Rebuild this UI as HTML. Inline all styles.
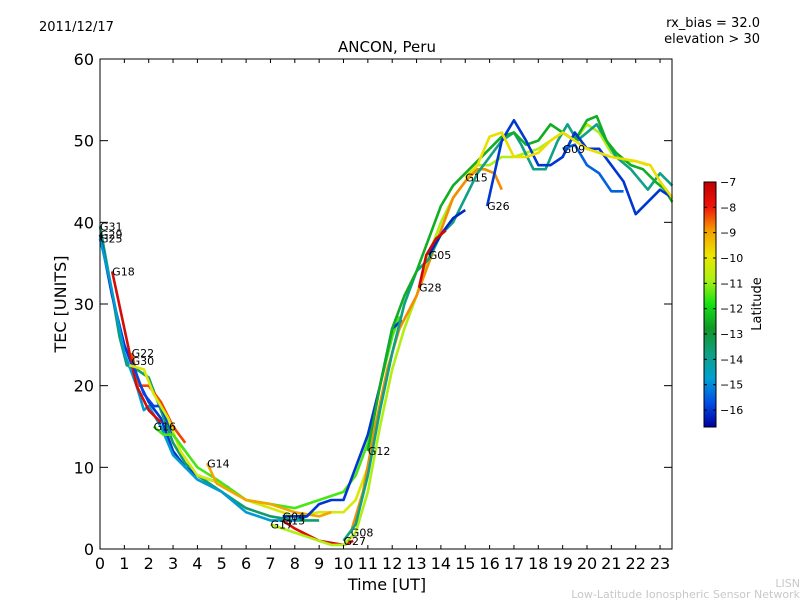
<!DOCTYPE html>
<html><head><meta charset="utf-8"><style>
body{margin:0;background:#fff;}
svg text{font-family:"DejaVu Sans","Liberation Sans",sans-serif;}
</style></head><body>
<svg id="c" width="800" height="600" xmlns="http://www.w3.org/2000/svg">
<rect width="800" height="600" fill="#fff"/>
<text x="39" y="31" font-size="13">2011/12/17</text>
<text x="760" y="27" font-size="13" text-anchor="end">rx_bias = 32.0</text>
<text x="760" y="43" font-size="13" text-anchor="end">elevation &gt; 30</text>
<text x="387" y="52" font-size="15" text-anchor="middle">ANCON, Peru</text>
<text x="387" y="590" font-size="16" text-anchor="middle">Time [UT]</text>
<text transform="translate(66,304) rotate(-90)" font-size="16" text-anchor="middle">TEC [UNITS]</text>
<text x="800" y="587" font-size="11" fill="#c8c8c8" text-anchor="end">LISN</text>
<text x="800" y="598" font-size="11" fill="#c8c8c8" text-anchor="end">Low-Latitude Ionospheric Sensor Network</text>
<g id="plot"></g>
<g id="axes"></g>
<g id="cbar"></g>
</svg>
<script>
const xTicks=[0,1,2,3,4,5,6,7,8,9,10,11,12,13,14,15,16,17,18,19,20,21,22,23];
const yTicks=[0,10,20,30,40,50,60];
const cbTicks=[-7,-8,-9,-10,-11,-12,-13,-14,-15,-16];
const satNames=["G31","G29","G25","G18","G22","G30","G16a","G16","G14","G13","G17","G04","G08","G27","G12","G05","G26","G15","G09","G28"];
const satLats=[-13.5,-16,-14.8,-7.5,-8.3,-15.8,-10.2,-11.5,-9,-7.6,-10.8,-16,-8.8,-13.8,-12.5,-16.2,-16,-9.8,-15.5,-7.4];
const satT=[
[0,0.4,0.8,1.1,1.5,2,2.5,3,3.5,4,5,6,7,8,9],
[0,0.5,1,1.5,2,2.5,3,3.5,4,5,5.3],
[0,0.4,0.8,1,1.5,1.8,2,2.5,3,3.5,4,5,6,7,8,8.5],
[0.5,1,1.5,2,2.5],
[1.3,1.6,2,2.5,3,3.5],
[1.3,1.8,2.2,2.5,3,3.5,4],
[1.2,1.8,2.2,2.8,3.3,4,5,6,7,8,9,10,10.5,11],
[2.2,2.6,3,3.5,4,4.8,6,7,8,9,10,10.5,11,11.5,12,12.3],
[4.4,4.8,6,7,8,9,9.5],
[7.5,8,9,10,10.4],
[7,8,9,9.5,10,10.5,11,11.5,12,12.5,13,13.5,14,14.5,15,15.5,16,16.5,17,17.5,18,18.5,19,19.5,20,20.5,21,21.5,22,22.5],
[7.5,8.5,9,9.5,10,10.5,11,11.5,12,12.4],
[10.3,10.8,11.3,11.8,12.3,13,13.5,14,14.5,15,15.5,15.8,16.2,16.5],
[10,10.5,11,11.5,12,12.5,13,13.5,14,14.5,15,15.5,16,16.5,17,17.3,17.8,18.3,18.8,19.2,19.6,20,20.4,20.8,21.2,21.8,22.5,23,23.5],
[11,11.5,12,12.5,13,14,14.5,15,15.5,16,16.5,17,17.5,18,18.5,19,19.5,20,20.4,20.8,21.2,21.8,22.3,22.8,23.2,23.5],
[13.5,14,14.5,15],
[15.9,16.2,16.5,17,17.5,18,18.5,19,19.5,20,20.5,21,21.5,22,22.5,23,23.5],
[15,15.5,16,16.5,17,17.5,18,18.5,19,19.5,20,20.5,21,22,22.6,23,23.5],
[19,19.5,20,20.5,21,21.5],
[13.1,13.4,13.8,14.2]
];
const satV=[
[39.5,33,26,22.5,22,21,17,13,10.5,9,7,5,4,3.5,3.5],
[38.5,31,25,21,18,16,12,10,9,8,7.5],
[38,33,27,24,20,17,17.5,15,11.5,10,8.5,7,4.5,3.5,3.5,4],
[34,27,20,17,15.5],
[24,20,20,18,15,13],
[23,19,17.5,17.5,14,12],
[22.5,22,19,16,12,9,8,6,5,4,4.5,4.5,6,10],
[15,14,14,12,10,8.5,6,5.5,5,6,7,9,13,20,26,28.5],
[10.5,8,6,5.5,4.5,4,4.5],
[3.5,2.5,1,0.5,1],
[3,2,1,0.5,0.5,2,7,15,22,27,31,36,40,43,45,47,47,48,48,48.5,49,50,51,50,52,51,48.5,47.5,47.5,47],
[4,4,5.5,6,6,10,14,20,27,28],
[2,7,15,22,27,31,35,39,43,45,46.5,46.5,46,44],
[1,3,9,17,24,30,34,35.5,38.5,40,43,46,48,50,51,49.5,46.5,46.5,50,52,50,51,52,50,48,46.5,44,46,44.5],
[12,20,27,31,34,42,44.5,46,47.5,49,50.5,51,49.5,50,52,51,50,52.5,53,50,48.5,47,46.5,45,44,42.5],
[36,38.5,40.5,41.5],
[42,46,50,52.5,50,47,47,48,51,49,49,47,45,41,42.5,44,43],
[45.5,47,50.5,51,48,48,48.5,50,51,50,49,48.5,48,47.5,47,45,43],
[49,49.5,47,46,43.8,43.8],
[32,36,38,39]
];
const X0=100,X1=672,Y0=549,Y1=59;
function xs(t){return X0+t*24.35;}
function ys(v){return Y0-v*(Y0-Y1)/60;}
const LMIN=-16.67,LMAX=-7;
const CMAP=[[0,[0,0,160]],[0.1,[0,80,230]],[0.2,[0,160,210]],[0.3,[16,160,130]],[0.4,[16,150,40]],[0.5,[20,225,20]],[0.6,[170,240,20]],[0.7,[235,230,0]],[0.8,[245,160,0]],[0.9,[240,20,10]],[1,[190,0,0]]];
function cm(f){f=Math.max(0,Math.min(1,f));
 for(let k=1;k<CMAP.length;k++){if(f<=CMAP[k][0]){const a=CMAP[k-1],b=CMAP[k],u=(f-a[0])/(b[0]-a[0]);
 return `rgb(${a[1].map((c,i)=>Math.round(c+(b[1][i]-c)*u)).join(',')})`;}}
 return 'rgb(190,0,0)';}
function latColor(l){return cm((l-LMIN)/(LMAX-LMIN));}
const NS="http://www.w3.org/2000/svg";
const plot=document.getElementById('plot');
satNames.forEach((n,i)=>{
 const p=document.createElementNS(NS,'polyline');
 
 
 p.setAttribute('points',satT[i].map((t,j)=>xs(t)+','+ys(satV[i][j])).join(' '));
 p.setAttribute('fill','none');p.setAttribute('stroke',latColor(satLats[i]));
 p.setAttribute('stroke-width','2.6');p.setAttribute('stroke-linejoin','round');
 plot.appendChild(p);
 if(n.length===3){
 const tx=document.createElementNS(NS,'text');
 
 
 tx.setAttribute('x',xs(satT[i][0]));tx.setAttribute('y',ys(satV[i][0])+4);
 tx.setAttribute('font-size','11');tx.textContent=n;plot.appendChild(tx);}
});
const ax=document.getElementById('axes');
let h=`<rect x="${X0}" y="${Y1}" width="${X1-X0}" height="${Y0-Y1}" fill="none" stroke="#000" stroke-width="1"/>`;
xTicks.forEach(t=>{const x=xs(t);h+=`<line x1="${x}" y1="${Y0}" x2="${x}" y2="${Y0-4}" stroke="#000"/><line x1="${x}" y1="${Y1}" x2="${x}" y2="${Y1+4}" stroke="#000"/><text x="${x}" y="${Y0+20}" font-size="16" text-anchor="middle">${t}</text>`;});
yTicks.forEach(v=>{const y=ys(v);h+=`<line x1="${X0}" y1="${y}" x2="${X0+8}" y2="${y}" stroke="#000"/><line x1="${X1}" y1="${y}" x2="${X1-8}" y2="${y}" stroke="#000"/><text x="${X0-6}" y="${y+6}" font-size="16" text-anchor="end">${v}</text>`;});
ax.innerHTML=h;
const cb=document.getElementById('cbar');
const CT=182,CB=427,CX=704,CW=12;
function cy(l){return CT+(LMAX-l)/(LMAX-LMIN)*(CB-CT);}
let g=`<defs><linearGradient id="jg" x1="0" y1="1" x2="0" y2="0">`;
for(let k=0;k<=20;k++){g+=`<stop offset="${k/20}" stop-color="${cm(k/20)}"/>`;}
g+=`</linearGradient></defs><rect x="${CX}" y="${CT}" width="${CW}" height="${CB-CT}" fill="url(#jg)" stroke="#000"/>`;
cbTicks.forEach(l=>{const y=cy(l);g+=`<line x1="${CX}" y1="${y}" x2="${CX+3}" y2="${y}" stroke="#000"/><line x1="${CX+CW}" y1="${y}" x2="${CX+CW-3}" y2="${y}" stroke="#000"/><text x="${CX+CW+4}" y="${y+4}" font-size="11">\u2212${Math.abs(l)}</text>`;});
g+=`<text transform="translate(761,304) rotate(-90)" font-size="13" text-anchor="middle">Latitude</text>`;
cb.innerHTML=g;
</script>
</body></html>
